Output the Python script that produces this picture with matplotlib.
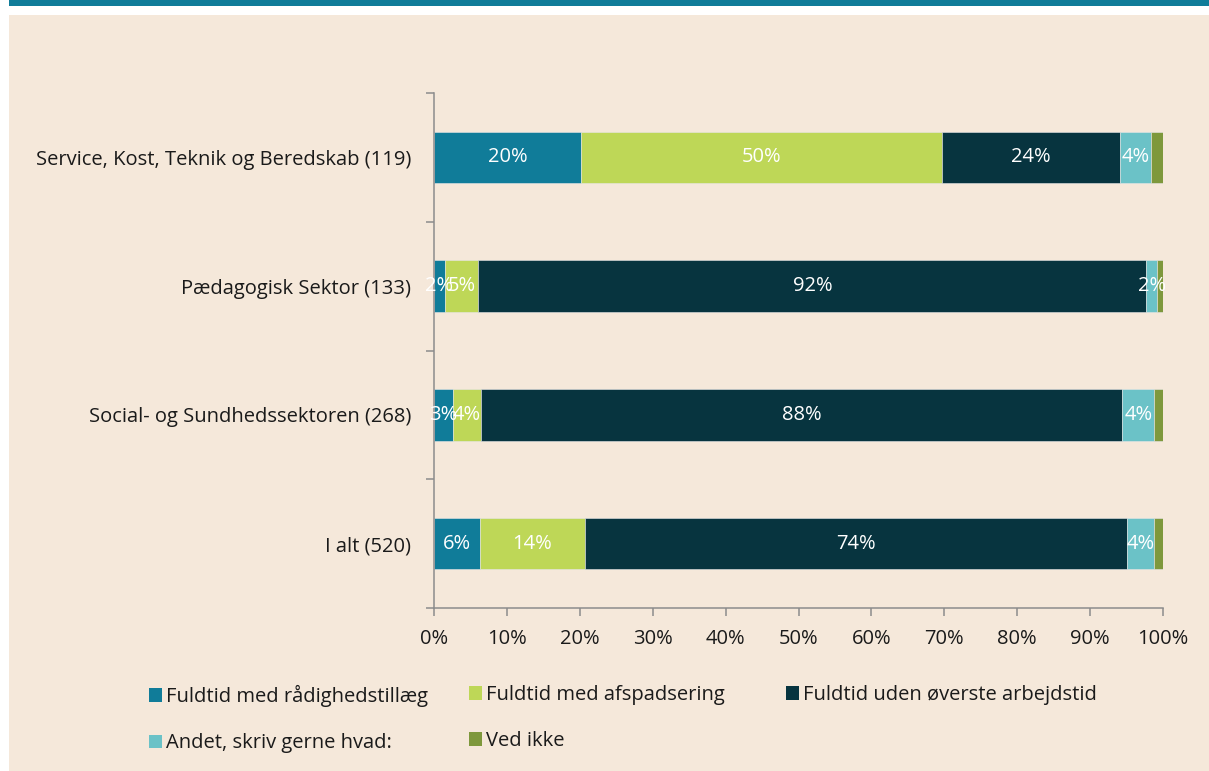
import matplotlib.pyplot as plt
from matplotlib.patches import Rectangle, Patch

plt.rcParams['font.family'] = ['Open Sans', 'DejaVu Sans']

# data (percent), categories top to bottom
categories = ['Service, Kost, Teknik og Beredskab (119)', 'Pædagogisk Sektor (133)',
              'Social- og Sundhedssektoren (268)', 'I alt (520)']
series_names = ['Fuldtid med rådighedstillæg', 'Fuldtid med afspadsering',
                'Fuldtid uden øverste arbejdstid', 'Andet, skriv gerne hvad:', 'Ved ikke']
raadighed = [20.2, 1.5, 2.6, 6.3]
afspadsering = [49.5, 4.6, 3.8, 14.4]
uden_oeverste = [24.4, 91.6, 88.0, 74.4]
andet = [4.3, 1.5, 4.4, 3.7]
ved_ikke = [1.6, 0.8, 1.2, 1.2]
show_label = [True, True, True, True, False]

colors = ['#107C99', '#BED757', '#07343F', '#6BC2C7', '#7E983C']
bg = '#F5E8DA'
txt = '#1A1A1A'
spine_c = '#8C8C8C'
fs = 14.5

fig = plt.figure(figsize=(12.09, 7.71), dpi=100)
fig.patch.set_facecolor('white')
# beige panel and teal strip
fig.add_artist(Rectangle((9/1209, 0), 1, (771-15)/771, transform=fig.transFigure,
                         facecolor=bg, edgecolor='none', zorder=-10))
fig.add_artist(Rectangle((9/1209, (771-6)/771), 1, 6/771, transform=fig.transFigure,
                         facecolor='#107C99', edgecolor='none', zorder=-10))

ax = fig.add_axes([434/1209, (771-608)/771, (1163-434)/1209, (608-93)/771])
ax.set_facecolor(bg)
ax.patch.set_alpha(0)

all_series = [raadighed, afspadsering, uden_oeverste, andet, ved_ikke]
ypos = list(range(len(categories)))
left = [0.0] * len(categories)
for vals, name, col, show in zip(all_series, series_names, colors, show_label):
    bars = ax.barh(ypos, vals, left=left, height=0.4, color=col, label=name,
                   edgecolor='#E6E6E6', linewidth=0.4)
    if show:
        ax.bar_label(bars, labels=['%d%%' % int(v + 0.5) for v in vals],
                     label_type='center', color='white', fontsize=fs)
    left = [l + v for l, v in zip(left, vals)]

ax.set_xlim(0, 100)
ax.set_ylim(3.5, -0.5)
ax.set_xticks(range(0, 101, 10))
ax.set_xticklabels(['%d%%' % t for t in range(0, 101, 10)])
ax.set_yticks(ypos)
ax.set_yticklabels(categories)
ax.set_yticks([-0.5, 0.5, 1.5, 2.5, 3.5], minor=True)
ax.tick_params(axis='y', which='major', length=0, pad=16.5, labelsize=fs, labelcolor=txt)
ax.tick_params(axis='y', which='minor', length=6, width=1.1, color=spine_c)
ax.tick_params(axis='x', length=6, width=1.1, color=spine_c, labelsize=fs,
               labelcolor=txt, pad=9)
for s in ['top', 'right']:
    ax.spines[s].set_visible(False)
for s in ['left', 'bottom']:
    ax.spines[s].set_color(spine_c)
    ax.spines[s].set_linewidth(1.1)

# legend: three columns, placed separately
handles = [Patch(facecolor=c, edgecolor='none') for c in colors]
col_x = [141/1209, 461/1209, 778/1209]
col_items = [[0, 3], [1, 4], [2]]
for cx, items in zip(col_x, col_items):
    leg = fig.legend([handles[i] for i in items], [series_names[i] for i in items],
                     loc='upper left', bbox_to_anchor=(cx, (771-677)/771),
                     frameon=False, fontsize=fs, handlelength=0.65, handleheight=0.65,
                     handletextpad=0.2, labelspacing=1.3, borderaxespad=0,
                     labelcolor=txt)

fig.savefig('out.png', dpi=100, facecolor=fig.get_facecolor())
